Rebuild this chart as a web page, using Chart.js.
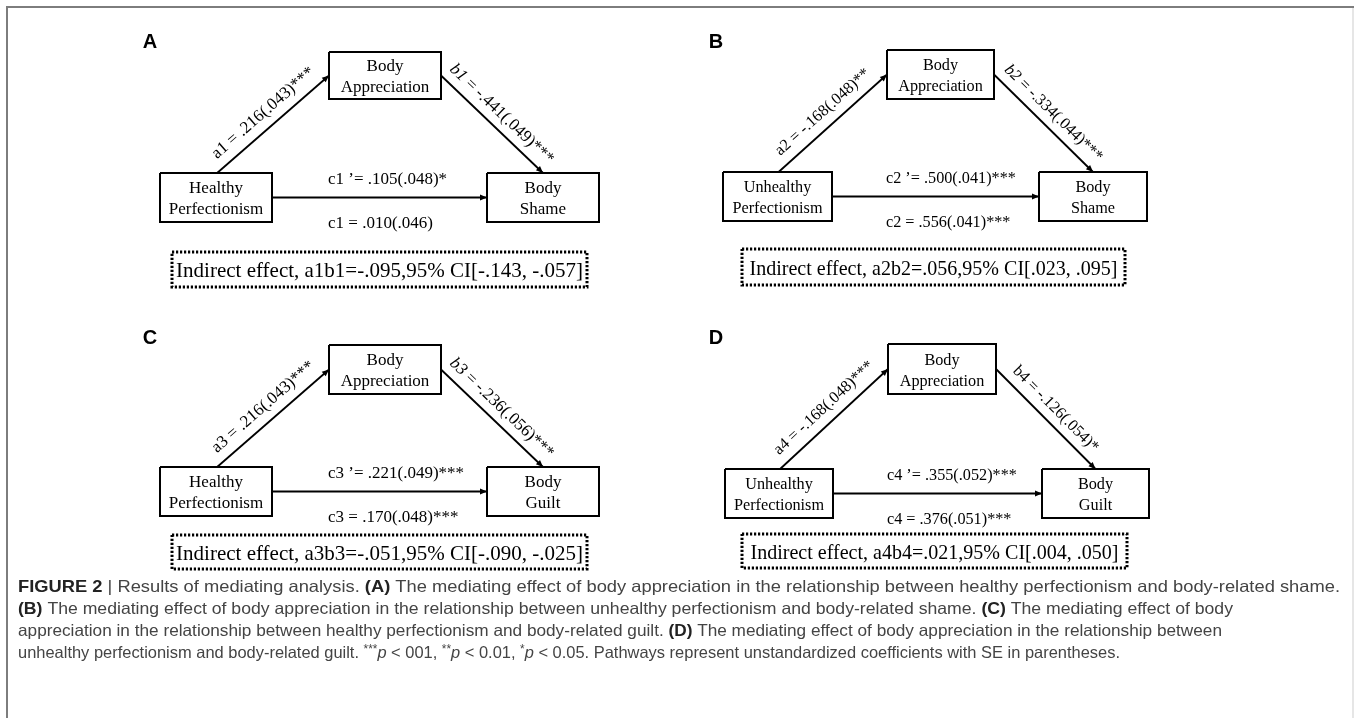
<!DOCTYPE html>
<html><head><meta charset="utf-8">
<script src="https://cdn.jsdelivr.net/npm/chart.js@4"></script>
<style>html,body{margin:0;padding:0;background:#fff;overflow:hidden}canvas{display:block}</style>
</head><body>
<canvas id="c" width="1354" height="718"></canvas>
<script>
// ---------------- DATA ----------------
const panelLetters = ['A', 'B', 'C', 'D'];
const predictors = [['Healthy', 'Perfectionism'], ['Unhealthy', 'Perfectionism'], ['Healthy', 'Perfectionism'], ['Unhealthy', 'Perfectionism']];
const mediators = [['Body', 'Appreciation'], ['Body', 'Appreciation'], ['Body', 'Appreciation'], ['Body', 'Appreciation']];
const outcomes = [['Body', 'Shame'], ['Body', 'Shame'], ['Body', 'Guilt'], ['Body', 'Guilt']];
const aCoef = [0.216, -0.168, 0.216, -0.168];
const aSE = [0.043, 0.048, 0.043, 0.048];
const aSig = ['***', '**', '***', '***'];
const bCoef = [-0.441, -0.334, -0.236, -0.126];
const bSE = [0.049, 0.044, 0.056, 0.054];
const bSig = ['***', '***', '***', '*'];
const cpCoef = [0.105, 0.500, 0.221, 0.355];
const cpSE = [0.048, 0.041, 0.049, 0.052];
const cpSig = ['*', '***', '***', '***'];
const cCoef = [0.010, 0.556, 0.170, 0.376];
const cSE = [0.046, 0.041, 0.048, 0.051];
const cSig = ['', '***', '***', '***'];
const indEffect = [-0.095, 0.056, -0.051, 0.021];
const ciLow = [-0.143, 0.023, -0.090, 0.004];
const ciHigh = [-0.057, 0.095, -0.025, 0.050];

// ---------------- LAYOUT (positions in chart units) ----------------
const W = 1354, H = 718;
const layout = [
  {k: 1, bItalic: true, letter: [150, 48], M: [329, 52, 112, 47], X: [160, 173, 112, 49], Y: [487, 173, 112, 49], ind: [172, 252, 415, 35]},
  {k: 0.955, bItalic: true, letter: [716, 48], M: [887, 50, 107, 49], X: [723, 172, 109, 49], Y: [1039, 172, 108, 49], ind: [742, 249, 383, 36]},
  {k: 1, bItalic: true, letter: [150, 344], M: [329, 345, 112, 49], X: [160, 467, 112, 49], Y: [487, 467, 112, 49], ind: [172, 535, 415, 34]},
  {k: 0.955, bItalic: false, letter: [716, 344], M: [888, 344, 108, 50], X: [725, 469, 108, 49], Y: [1042, 469, 107, 49], ind: [742, 534, 385, 34]}
];
const captionBaselines = [592, 614, 636, 658];
const captionX = 18, captionEnds = [1340, 1233, 1222, 1120], captionSize = 16.5;

function fmt(v) { const s = Math.abs(v).toFixed(3).replace(/^0/, ''); return (v < 0 ? '-' : '') + s; }
function rect(b) { return [{x: b[0], y: b[1]}, {x: b[0] + b[2], y: b[1]}, {x: b[0] + b[2], y: b[1] + b[3]}, {x: b[0], y: b[1] + b[3]}, {x: b[0], y: b[1]}]; }

const lineBase = {showLine: true, pointRadius: 0, pointHoverRadius: 0, fill: false, tension: 0, borderColor: '#000', borderJoinStyle: 'miter'};
const datasets = [];
// frame
datasets.push(Object.assign({}, lineBase, {data: [{x: 7, y: H}, {x: 7, y: 7}, {x: W, y: 7}], borderColor: '#7d7d7d', borderWidth: 2}));
datasets.push(Object.assign({}, lineBase, {data: [{x: 1353, y: 7}, {x: 1353, y: H}], borderColor: '#dedede', borderWidth: 1.5}));

layout.forEach((L, i) => {
  const n = i + 1;
  ['M', 'X', 'Y'].forEach(k => datasets.push(Object.assign({}, lineBase, {data: rect(L[k]), borderWidth: 2})));
  datasets.push(Object.assign({}, lineBase, {data: rect(L.ind), borderWidth: 3, borderDash: [2.2, 1.8], borderCapStyle: 'butt'}));
  const M = L.M, X = L.X, Y = L.Y;
  datasets.push(Object.assign({}, lineBase, {
    data: [{x: X[0] + X[2] * 0.51, y: X[1]}, {x: M[0], y: M[1] + M[3] / 2}], borderWidth: 1.8,
    arrow: true, panel: i, labelHead: 'a' + n, labelHeadItalic: false,
    label: ' = ' + fmt(aCoef[i]) + '(' + fmt(aSE[i]) + ')' + aSig[i], labelOff: 15
  }));
  datasets.push(Object.assign({}, lineBase, {
    data: [{x: M[0] + M[2], y: M[1] + M[3] / 2}, {x: Y[0] + Y[2] * 0.5, y: Y[1]}], borderWidth: 1.8,
    arrow: true, panel: i, labelHead: 'b' + n, labelHeadItalic: L.bItalic,
    label: ' = ' + fmt(bCoef[i]) + '(' + fmt(bSE[i]) + ')' + bSig[i], labelOff: 14
  }));
  const cy = X[1] + X[3] / 2;
  datasets.push(Object.assign({}, lineBase, {
    data: [{x: X[0] + X[2], y: cy}, {x: Y[0], y: cy}], borderWidth: 1.8, arrow: true, panel: i,
    cLabels: ['c' + n + ' \u2019= ' + fmt(cpCoef[i]) + '(' + fmt(cpSE[i]) + ')' + cpSig[i],
              'c' + n + ' = ' + fmt(cCoef[i]) + '(' + fmt(cSE[i]) + ')' + cSig[i]],
    cLabelX: M[0] - 1
  }));
});

const SERIF = '"Liberation Serif", "Times New Roman", serif';
const SANS = '"Liberation Sans", Arial, Helvetica, sans-serif';

const caption = [
  [{t: 'FIGURE 2', b: 1}, {t: ' | '}, {t: 'Results of mediating analysis. '}, {t: '(A)', b: 1}, {t: ' The mediating effect of body appreciation in the relationship between healthy perfectionism and body-related shame.'}],
  [{t: '(B)', b: 1}, {t: ' The mediating effect of body appreciation in the relationship between unhealthy perfectionism and body-related shame. '}, {t: '(C)', b: 1}, {t: ' The mediating effect of body'}],
  [{t: 'appreciation in the relationship between healthy perfectionism and body-related guilt. '}, {t: '(D)', b: 1}, {t: ' The mediating effect of body appreciation in the relationship between'}],
  [{t: 'unhealthy perfectionism and body-related guilt. '}, {t: '***', sup: 1}, {t: 'p', i: 1}, {t: ' < 001, '}, {t: '**', sup: 1}, {t: 'p', i: 1}, {t: ' < 0.01, '}, {t: '*', sup: 1}, {t: 'p', i: 1}, {t: ' < 0.05. Pathways represent unstandardized coefficients with SE in parentheses.'}]
];

function segFont(s, size) {
  const fs = s.sup ? size * 0.72 : size;
  return (s.i ? 'italic ' : '') + (s.b ? 'bold ' : '') + fs.toFixed(2) + 'px ' + SANS;
}
function richWidth(ctx, segs, size) {
  let w = 0;
  segs.forEach(s => { ctx.font = segFont(s, size); w += ctx.measureText(s.t).width; });
  return w;
}
function drawRich(ctx, segs, x, y, size, sxf) {
  ctx.save();
  ctx.translate(x, y);
  ctx.scale(sxf, 1);
  let cx = 0;
  segs.forEach(s => {
    ctx.font = segFont(s, size);
    ctx.fillStyle = s.b ? '#222' : '#444';
    ctx.fillText(s.t, cx, s.sup ? -size * 0.32 : 0);
    cx += ctx.measureText(s.t).width;
  });
  ctx.restore();
}

const diagramText = {
  id: 'diagramText',
  afterDatasetsDraw(chart) {
    const ctx = chart.ctx, sx = chart.scales.x, sy = chart.scales.y;
    const P = (x, y) => [sx.getPixelForValue(x), sy.getPixelForValue(y)];
    ctx.save();
    chart.data.datasets.forEach((ds, di) => {
      const pts = chart.getDatasetMeta(di).data;
      if (!ds.arrow || pts.length < 2) return;
      const k = layout[ds.panel].k;
      const p0 = pts[0], p1 = pts[1];
      const dx = p1.x - p0.x, dy = p1.y - p0.y, len = Math.hypot(dx, dy);
      const ux = dx / len, uy = dy / len;
      const al = 7, aw = 3;
      ctx.fillStyle = '#000';
      ctx.beginPath();
      ctx.moveTo(p1.x, p1.y);
      ctx.lineTo(p1.x - ux * al - uy * aw, p1.y - uy * al + ux * aw);
      ctx.lineTo(p1.x - ux * al + uy * aw, p1.y - uy * al - ux * aw);
      ctx.closePath();
      ctx.fill();
      const fsz = (17 * k).toFixed(2) + 'px ' + SERIF;
      ctx.font = fsz;
      if (ds.label) {
        const mx = (p0.x + p1.x) / 2, my = (p0.y + p1.y) / 2;
        const nx = uy, ny = -ux;
        ctx.save();
        ctx.translate(mx + nx * ds.labelOff, my + ny * ds.labelOff);
        ctx.rotate(Math.atan2(dy, dx));
        ctx.textAlign = 'left';
        ctx.textBaseline = 'middle';
        const headFont = (ds.labelHeadItalic ? 'italic ' : '') + fsz;
        ctx.font = headFont;
        const wh = ctx.measureText(ds.labelHead).width;
        ctx.font = fsz;
        const wr = ctx.measureText(ds.label).width;
        const x0 = -(wh + wr) / 2;
        ctx.font = headFont;
        ctx.fillText(ds.labelHead, x0, 0);
        ctx.font = fsz;
        ctx.fillText(ds.label, x0 + wh, 0);
        ctx.restore();
      }
      if (ds.cLabels) {
        const lx = sx.getPixelForValue(ds.cLabelX);
        ctx.textAlign = 'left';
        ctx.textBaseline = 'alphabetic';
        ctx.fillText(ds.cLabels[0], lx, p0.y - 14);
        ctx.fillText(ds.cLabels[1], lx, p0.y + 30);
      }
    });
    layout.forEach((L, i) => {
      const k = L.k;
      ctx.fillStyle = '#000';
      ctx.font = 'bold 20px ' + SANS;
      ctx.textAlign = 'center';
      ctx.textBaseline = 'alphabetic';
      let q = P(L.letter[0], L.letter[1]);
      ctx.fillText(panelLetters[i], q[0], q[1]);
      ctx.font = (17 * k).toFixed(2) + 'px ' + SERIF;
      [[L.M, mediators[i]], [L.X, predictors[i]], [L.Y, outcomes[i]]].forEach(([b, txt]) => {
        const c = P(b[0] + b[2] / 2, b[1] + b[3] / 2);
        ctx.fillText(txt[0], c[0], c[1] - 4.5);
        ctx.fillText(txt[1], c[0], c[1] + 16.5);
      });
      const t = 'Indirect effect, a' + (i + 1) + 'b' + (i + 1) + '=' + fmt(indEffect[i]) + ',95% CI[' + fmt(ciLow[i]) + ', ' + fmt(ciHigh[i]) + ']';
      ctx.font = (21 * k).toFixed(2) + 'px ' + SERIF;
      const c = P(L.ind[0] + L.ind[2] / 2, L.ind[1] + L.ind[3] / 2);
      ctx.fillText(t, c[0], c[1] + 7.5);
    });
    ctx.textAlign = 'left';
    ctx.textBaseline = 'alphabetic';
    caption.forEach((segs, j) => {
      const q = P(captionX, captionBaselines[j]);
      const qe = P(captionEnds[j], captionBaselines[j]);
      const w = richWidth(ctx, segs, captionSize);
      drawRich(ctx, segs, q[0], q[1], captionSize, (qe[0] - q[0]) / w);
    });
    ctx.restore();
  }
};

new Chart(document.getElementById('c'), {
  type: 'scatter',
  data: {datasets},
  options: {
    responsive: false, animation: false, events: [],
    layout: {padding: 0},
    plugins: {legend: {display: false}, tooltip: {enabled: false}, title: {display: false}},
    scales: {
      x: {type: 'linear', min: 0, max: W, display: false},
      y: {type: 'linear', min: 0, max: H, reverse: true, display: false}
    }
  },
  plugins: [diagramText]
});
</script>
</body></html>
